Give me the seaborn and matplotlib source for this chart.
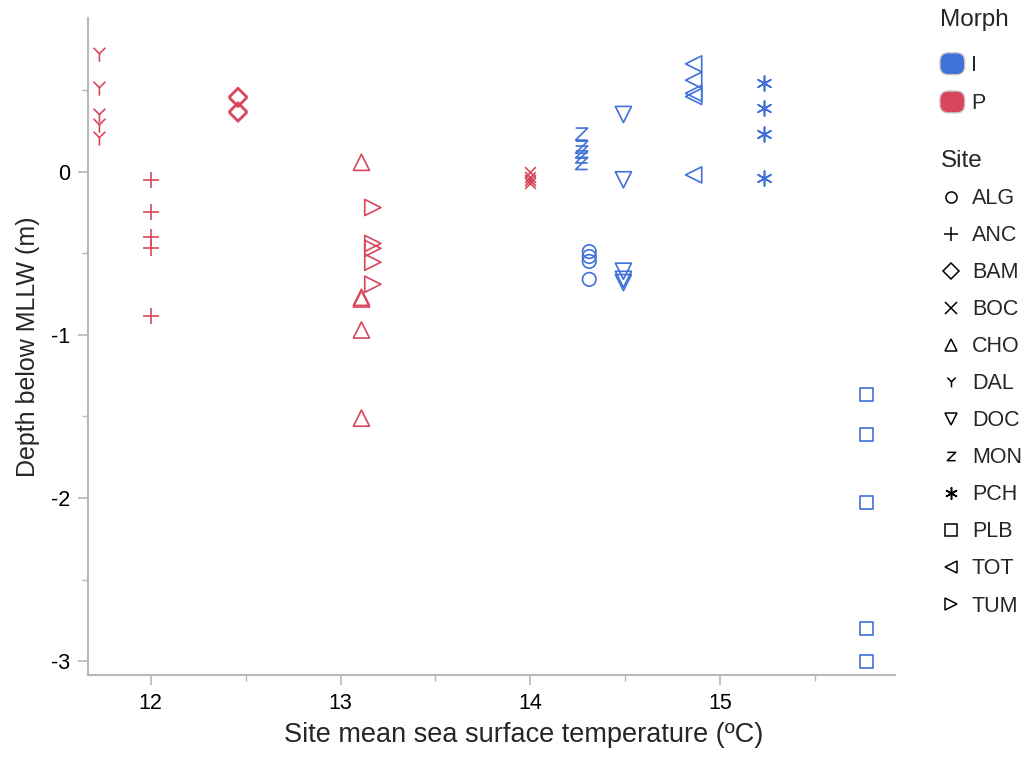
import matplotlib
matplotlib.use("Agg")
import matplotlib.pyplot as plt
import seaborn as sns
from matplotlib.path import Path
from matplotlib.lines import Line2D
from matplotlib.patches import FancyBboxPatch, Patch
from matplotlib.legend_handler import HandlerPatch
from matplotlib.ticker import MultipleLocator

# ---- data: one entry per site ----
site_names = ["ALG", "ANC", "BAM", "BOC", "CHO", "DAL", "DOC", "MON", "PCH", "PLB", "TOT", "TUM"]
site_morph = ["I", "P", "P", "P", "P", "P", "I", "I", "I", "I", "I", "P"]
site_sst = [14.31, 12.00, 12.46, 14.00, 13.11, 11.73, 14.49, 14.27, 15.23, 15.77, 14.86, 13.17]

depth_alg = [-0.49, -0.52, -0.55, -0.66]
depth_anc = [-0.05, -0.245, -0.40, -0.47, -0.887]
depth_bam = [0.46, 0.45, 0.37, 0.36]
depth_boc = [0.0, -0.03, -0.05, -0.07]
depth_cho = [0.057, -0.77, -0.78, -0.97, -1.51]
depth_dal = [0.716, 0.508, 0.343, 0.281, 0.202]
depth_doc = [0.35, -0.05, -0.61, -0.66, -0.68]
depth_mon = [0.23, 0.15, 0.12, 0.09, 0.05]
depth_pch = [0.545, 0.39, 0.23, -0.04]
depth_plb = [-1.365, -1.61, -2.025, -2.80, -3.0]
depth_tot = [0.66, 0.56, 0.48, 0.46, -0.02]
depth_tum = [-0.22, -0.44, -0.47, -0.555, -0.69]

site_depths = [depth_alg, depth_anc, depth_bam, depth_boc, depth_cho, depth_dal,
               depth_doc, depth_mon, depth_pch, depth_plb, depth_tot, depth_tum]

morph_levels = ["I", "P"]
morph_colors = {"I": "#4070da", "P": "#d8465b"}

# ---- marker shapes ----
z_path = Path([(-1, 1), (1, 1), (-1, -1), (1, -1)],
              [Path.MOVETO, Path.LINETO, Path.LINETO, Path.LINETO])
y_path = Path([(0, -1), (0, 0.15), (-0.85, 1), (0, 0.15), (0.85, 1)],
              [Path.MOVETO, Path.LINETO, Path.MOVETO, Path.LINETO, Path.LINETO])
site_markers = {
    "ALG": "o", "ANC": "+", "BAM": "D", "BOC": "x", "CHO": "^", "DAL": y_path,
    "DOC": "v", "MON": z_path, "PCH": (6, 2, 0), "PLB": "s", "TOT": "<", "TUM": ">",
}
marker_sizes = {
    "ALG": 95, "ANC": 135, "BAM": 85, "BOC": 60, "CHO": 135, "DAL": 100,
    "DOC": 135, "MON": 75, "PCH": 110, "PLB": 85, "TOT": 135, "TUM": 135,
}
line_markers = {"ANC", "BOC", "PCH"}

sns.set_theme(style="white")
plt.rcParams["font.family"] = ["Liberation Sans", "DejaVu Sans"]
plt.rcParams["axes.unicode_minus"] = False

fig = plt.figure(figsize=(10.31, 7.57), dpi=100)
ax = fig.add_axes([0.0854, 0.108, 0.868 - 0.0854, 0.976 - 0.108])

for name, morph, sst, depths in zip(site_names, site_morph, site_sst, site_depths):
    col = morph_colors[morph]
    xs = [sst] * len(depths)
    if name in line_markers:
        sns.scatterplot(x=xs, y=depths, ax=ax, marker=site_markers[name],
                        s=marker_sizes[name], color=col, linewidth=1.2,
                        legend=False, zorder=3)
    else:
        sns.scatterplot(x=xs, y=depths, ax=ax, marker=site_markers[name],
                        s=marker_sizes[name], color=col, fc="none", ec=col,
                        linewidth=1.2, legend=False, zorder=3)

ax.set_xlim(11.67, 15.92)
ax.set_ylim(-3.085, 0.94)
ax.set_xticks([12, 13, 14, 15])
ax.set_yticks([0, -1, -2, -3])
ax.xaxis.set_minor_locator(MultipleLocator(0.5))
ax.yaxis.set_minor_locator(MultipleLocator(0.5))

for side in ["top", "right"]:
    ax.spines[side].set_visible(False)
for side in ["left", "bottom"]:
    ax.spines[side].set_color("#b8b8b8")
    ax.spines[side].set_linewidth(1.5)

ax.tick_params(axis="both", which="major", direction="out", length=7, width=1.2,
               color="#b8b8b8", labelsize=15.5, labelcolor="black", pad=6,
               bottom=True, left=True)
ax.tick_params(axis="both", which="minor", direction="out", length=4, width=1.0,
               color="#b8b8b8", bottom=True, left=True)

ax.set_xlabel("Site mean sea surface temperature (ºC)", fontsize=19.5)
ax.xaxis.set_label_coords(0.540, -0.071)
ax.set_ylabel("Depth below MLLW (m)", fontsize=18, labelpad=8)


# ---- legends ----
def rounded_box(legend, orig_handle, xdescent, ydescent, width, height, fontsize):
    h = height * 1.45
    return FancyBboxPatch((-xdescent, -ydescent - (h - height) / 2), width, h,
                          boxstyle="round,pad=0,rounding_size=6")


fig.text(0.9117, 1 - 20 / 757, "Morph", fontsize=17.5, ha="left", va="center")
morph_handles = [Patch(facecolor=morph_colors[m], edgecolor="#c8c8c8", linewidth=1.0,
                       label=m) for m in morph_levels]
leg1 = fig.legend(handles=morph_handles, loc="upper left",
                  bbox_to_anchor=(0.9117, 0.927), frameon=False, fontsize=15.5,
                  handlelength=1.15, handletextpad=0.3, borderaxespad=0.0,
                  labelspacing=0.8, borderpad=0.0,
                  handler_map={Patch: HandlerPatch(patch_func=rounded_box)})

site_sizes = {"ANC": 10, "BOC": 8, "PCH": 9, "MON": 6, "DAL": 7}
site_handles = [Line2D([], [], marker=site_markers[n], linestyle="", color="black",
                       markerfacecolor="none", markeredgewidth=1.1,
                       markersize=site_sizes.get(n, 8), label=n)
                for n in site_names]
leg2 = fig.legend(handles=site_handles, title="Site", loc="upper left",
                  bbox_to_anchor=(0.902, 0.816), frameon=False, fontsize=15.5,
                  title_fontsize=17.5, handlelength=1.0, handletextpad=0.45,
                  labelspacing=0.745, alignment="left", borderpad=0.0)

fig.savefig("out.png", dpi=100)
